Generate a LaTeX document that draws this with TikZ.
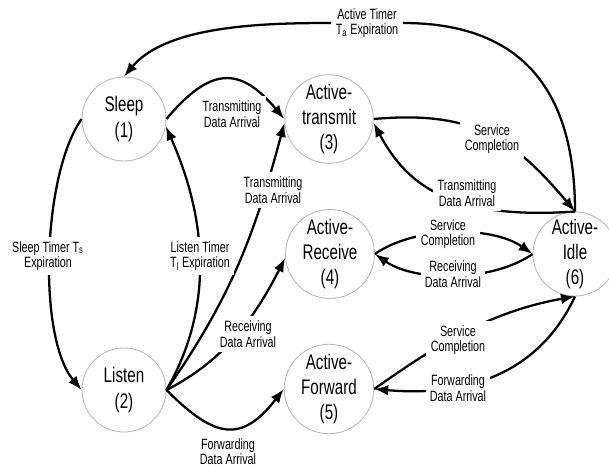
\documentclass[tikz,border=0pt]{standalone}
\usepackage{fontspec}
\setmainfont{Liberation Sans}[FakeStretch=0.72]
\usetikzlibrary{arrows.meta}

\begin{document}
\begin{tikzpicture}[
  estado/.style={circle, draw=gray!55, line width=0.5pt, minimum size=1.68cm, inner sep=0pt, align=center, font=\fontsize{12}{14.4}\selectfont},
  etiqueta/.style={fill=white, inner sep=2.5pt, align=center, font=\fontsize{8.5}{8.8}\selectfont},
  flecha/.style={line width=1.3pt, -{Latex[length=2.8mm,width=2.1mm]}}
]
%\draw[help lines](0,0) grid (12,9);
\useasboundingbox (0,0) rectangle (12.18,9.36); % marco

\node[estado] (sleep) at (2.48,6.98) {Sleep\\(1)}; % estado 1
\node[estado] (listen) at (2.48,1.56) {Listen\\(2)}; % estado 2
\node[estado] (transmit) at (6.58,6.98) {Active-\\transmit\\(3)}; % estado 3
\node[estado] (receive) at (6.60,4.28) {Active-\\Receive\\(4)}; % estado 4
\node[estado] (forward) at (6.58,1.58) {Active-\\Forward\\(5)}; % estado 5
\node[estado] (idle) at (11.50,4.28) {Active-\\Idle\\(6)}; % estado 6

\draw[flecha] (sleep.east) to[out=50,in=130,looseness=1.5] (transmit.west); % 1 -> 3
\draw[flecha] (sleep.west) to[out=235,in=130,looseness=0.65] (listen.west); % 1 -> 2
\draw[flecha] (listen.east) to[out=60,in=-66,looseness=0.95] (sleep.-10); % 2 -> 1
\draw[flecha] (listen.east) to[out=55,in=-105] (transmit.185); % 2 -> 3
\draw[flecha] (listen.east) to[out=27,in=-117,looseness=0.95] (receive.185); % 2 -> 4
\draw[flecha] (listen.east) to[out=-45,in=-128,looseness=1.5] (forward.west); % 2 -> 5
\draw[flecha] (transmit.east) to[out=5,in=130,looseness=1.13] (idle.north); % 3 -> 6
\draw[flecha] (idle.north) .. controls +(184:2.5) and +(-62:1.4) .. (transmit.-5); % 6 -> 3
\draw[flecha] (receive.east) to[out=35,in=145,looseness=0.8] (idle.west); % 4 -> 6
\draw[flecha] (idle.west) to[out=-145,in=-35,looseness=0.8] (receive.east); % 6 -> 4
\draw[flecha] (forward.east) .. controls +(35:1.4) and +(190:1.8) .. (idle.south); % 5 -> 6
\draw[flecha] (idle.south) .. controls +(245:1.6) and +(-5:2.0) .. (forward.east); % 6 -> 5

\node[etiqueta] (ta) at (7.34,8.90) {Active Timer\\T\textsubscript{a} Expiration}; % texto 6 -> 1
\node[etiqueta] (tx1) at (4.64,7.08) {Transmitting\\Data Arrival}; % texto 1 -> 3
\node[etiqueta] (ts) at (0.96,4.24) {Sleep Timer T\textsubscript{s}\\Expiration}; % texto 1 -> 2
\node[etiqueta] (tl) at (4.00,4.24) {Listen Timer\\T\textsubscript{l} Expiration}; % texto 2 -> 1
\node[etiqueta] (tx2) at (5.46,5.56) {Transmitting\\Data Arrival}; % texto 2 -> 3
\node[etiqueta] (rx1) at (4.96,2.68) {Receiving\\Data Arrival}; % texto 2 -> 4
\node[etiqueta] (fw1) at (4.56,0.33) {Forwarding\\Data Arrival}; % texto 2 -> 5
\node[etiqueta] (sc1) at (9.84,6.58) {Service\\Completion}; % texto 3 -> 6
\node[etiqueta] (tx3) at (9.34,5.50) {Transmitting\\Data Arrival}; % texto 6 -> 3
\node[etiqueta] (sc2) at (8.96,4.68) {Service\\Completion}; % texto 4 -> 6
\node[etiqueta] (rx2) at (9.06,3.88) {Receiving\\Data Arrival}; % texto 6 -> 4
\node[etiqueta] (sc3) at (9.16,2.56) {Service\\Completion}; % texto 5 -> 6
\node[etiqueta] (fw2) at (9.16,1.60) {Forwarding\\Data Arrival}; % texto 6 -> 5

\draw[flecha] (idle.north) to[out=90,in=0,looseness=1.2] (ta) to[out=180,in=50,looseness=0.8] (sleep.north); % 6 -> 1

\end{tikzpicture}
\end{document}
